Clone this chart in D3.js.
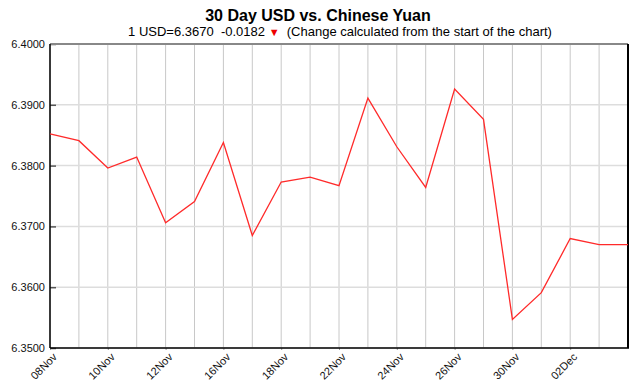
<!DOCTYPE html>
<html>
<head>
<meta charset="utf-8">
<script src="https://cdn.jsdelivr.net/npm/d3@7"></script>
<style>
  body { margin: 0; background: #fff; }
  text { font-family: "Liberation Sans", Arial, sans-serif; }
</style>
</head>
<body>
<svg id="chart" width="636" height="381"></svg>
<script>
// chart values
const dates = ["08Nov","09Nov","10Nov","11Nov","12Nov","15Nov","16Nov","17Nov","18Nov","19Nov",
  "22Nov","23Nov","24Nov","25Nov","26Nov","29Nov","30Nov","01Dec","02Dec","03Dec","06Dec"];
const rates = [6.3852,6.3841,6.3796,6.3814,6.3706,6.3741,6.3838,6.3685,6.3773,6.3781,
  6.3767,6.3911,6.3831,6.3764,6.3926,6.3876,6.3547,6.3591,6.3680,6.3670,6.3670];
const labelled = ["08Nov","10Nov","12Nov","16Nov","18Nov","22Nov","24Nov","26Nov","30Nov","02Dec"];
const yTicks = [6.35,6.36,6.37,6.38,6.39,6.40];

const svg = d3.select("#chart");
const plotL = 50, plotR = 628, plotT = 44, plotB = 348;

//x: one slot per trading day
const x = d3.scalePoint().domain(dates).range([plotL, plotR]);
const y = d3.scaleLinear().domain([6.35, 6.40]).range([plotB, plotT]);

// vertical grid
svg.append("g").selectAll("line")
  .data(dates)
  .enter().append("line")
  .attr("x1", d => x(d)).attr("x2", d => x(d))
  .attr("y1", plotT).attr("y2", plotB)
  .attr("stroke", "#c8c8c8").attr("stroke-width", 1);

// horizontal grid
svg.append("g").selectAll("line")
  .data(yTicks)
  .enter().append("line")
  .attr("x1", plotL).attr("x2", plotR)
  .attr("y1", d => y(d)).attr("y2", d => y(d))
  .attr("stroke", "#dddddd").attr("stroke-width", 1.5);

// y axis (ticks drawn inside the plot)
const yAxis = svg.append("g")
  .attr("transform", `translate(${plotL},0)`)
  .call(d3.axisLeft(y).tickValues(yTicks).tickFormat(d3.format(".4f")).tickSize(-6).tickPadding(5));
yAxis.select(".domain").remove();
yAxis.selectAll("line").attr("stroke", "#555").attr("stroke-width", 1.5);
yAxis.selectAll("text").attr("font-size", 11).attr("fill", "#111")
  .style("font-family", "'Liberation Sans', Arial, sans-serif");

// x axis: small ticks only, labels drawn rotated below
const xAxis = svg.append("g")
  .attr("transform", `translate(0,${plotB})`)
  .call(d3.axisBottom(x).tickValues(labelled).tickSize(2).tickFormat(""));
xAxis.select(".domain").remove();
xAxis.selectAll("line").attr("stroke", "#999");

svg.append("g").selectAll("g")
  .data(labelled)
  .enter().append("g")
  .attr("transform", d => `translate(${x(d) + 5},${plotB + 7}) rotate(-45)`)
  .append("text")
  .attr("text-anchor", "end")
  .attr("dy", "0.35em")
  .attr("font-size", 11)
  .attr("fill", "#111")
  .text(d => d);

// frame
svg.append("line").attr("x1", plotL).attr("x2", plotR).attr("y1", plotT).attr("y2", plotT)
  .attr("stroke", "#888").attr("stroke-width", 2);
svg.append("line").attr("x1", plotL).attr("x2", plotL).attr("y1", plotT).attr("y2", plotB)
  .attr("stroke", "#000").attr("stroke-width", 1.5);
svg.append("line").attr("x1", plotL).attr("x2", plotR + 1).attr("y1", plotB).attr("y2", plotB)
  .attr("stroke", "#000").attr("stroke-width", 1.5);
svg.append("line").attr("x1", plotR).attr("x2", plotR).attr("y1", plotT).attr("y2", plotB)
  .attr("stroke", "#000").attr("stroke-width", 2);

// rate line
const line = d3.line().x((d, i) => x(dates[i])).y(d => y(d));
svg.append("path")
  .datum(rates)
  .attr("d", line)
  .attr("fill", "none")
  .attr("stroke", "#ff2a2a")
  .attr("stroke-width", 1.3);

// titles
svg.append("text")
  .attr("x", 318).attr("y", 21)
  .attr("text-anchor", "middle")
  .attr("font-size", 16).attr("font-weight", "bold")
  .text("30 Day USD vs. Chinese Yuan");

const last = rates[rates.length - 1];
const change = last - rates[0];
const sub = svg.append("text")
  .attr("x", 340).attr("y", 35.5)
  .attr("text-anchor", "middle")
  .attr("font-size", 13)
  .attr("xml:space", "preserve");
sub.append("tspan").text(`1 USD=${last.toFixed(4)}  ${change.toFixed(4)} `);
sub.append("tspan").attr("fill", "#e00").attr("font-size", 11).text("\u25BC");
sub.append("tspan").text("  (Change calculated from the start of the chart)");
</script>
</body>
</html>
